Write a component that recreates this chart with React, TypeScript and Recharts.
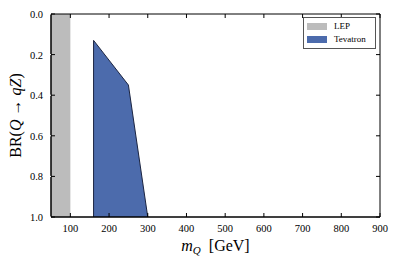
import React from "react";
import { ComposedChart, Area, XAxis, YAxis, Legend, ReferenceArea, ReferenceLine } from "recharts";

const xTicks = [100, 200, 300, 400, 500, 600, 700, 800, 900];
const yTicks = [0, 0.2, 0.4, 0.6, 0.8, 1.0];
const xDomain = [50, 900];
const yDomain = [0, 1];

// LEP exclusion band (full BR range)
const lepMass = [50, 100];
const lepBR = [0, 0];

// Tevatron excluded region, upper edge
const tevMass = [160, 160, 250, 300];
const tevBR = [1.0, 0.13, 0.35, 1.0];

const legendItems = [
  { name: "LEP", color: "#bcbcbc" },
  { name: "Tevatron", color: "#4c6bac" },
];

const FONT = "'Liberation Serif', 'DejaVu Serif', serif";

const rows: any[] = [
  ...lepMass.map((m, i) => ({ m, lep: lepBR[i] })),
  ...tevMass.map((m, i) => ({ m, tev: tevBR[i] })),
].sort((a, b) => a.m - b.m);

const W = 398;
const H = 265;
const MARGIN = { top: 14, right: 18, bottom: 0, left: 0 };
const Y_AXIS_W = 51;
const X_AXIS_H = 48;
const TICK_MARGIN = 8;
const TICK_LEN = 4;

// tick length expressed in data units for the top / right ticks
const plotW = W - MARGIN.right - Y_AXIS_W;
const plotH = H - MARGIN.top - X_AXIS_H;
const tickDx = (TICK_LEN * (xDomain[1] - xDomain[0])) / plotW;
const tickDy = (TICK_LEN * (yDomain[1] - yDomain[0])) / plotH;

function BottomTick(props: any) {
  const { x, y, payload } = props;
  const y0 = y - TICK_MARGIN;
  return (
    <g>
      <line x1={x} x2={x} y1={y0} y2={y0 - TICK_LEN} stroke="#000" />
      <text x={x} y={y} dy={7} textAnchor="middle" fontSize={10.5} fontFamily={FONT} fill="#000">
        {payload.value}
      </text>
    </g>
  );
}

function LeftTick(props: any) {
  const { x, y, payload } = props;
  const x0 = x + TICK_MARGIN;
  return (
    <g>
      <line x1={x0} x2={x0 + TICK_LEN} y1={y} y2={y} stroke="#000" />
      <text x={x} y={y} dy={4} textAnchor="end" fontSize={10.5} fontFamily={FONT} fill="#000">
        {Number(payload.value).toFixed(1)}
      </text>
    </g>
  );
}

function XLabel(props: any) {
  const vb = props.viewBox;
  return (
    <text x={vb.x + vb.width / 2} y={vb.y + 34} textAnchor="middle" fontSize={16} fontFamily={FONT} fill="#000">
      <tspan fontStyle="italic">m</tspan>
      <tspan fontSize={11} fontStyle="italic" dy={3}>Q</tspan>
      <tspan dy={-3}>{"\u2002[GeV]"}</tspan>
    </text>
  );
}

function YLabel(props: any) {
  const vb = props.viewBox;
  const cx = 21;
  const cy = vb.y + vb.height / 2;
  return (
    <text x={cx} y={cy} transform={`rotate(-90 ${cx} ${cy})`} textAnchor="middle" fontSize={16} fontFamily={FONT} fill="#000">
      BR(<tspan fontStyle="italic">Q</tspan>{" \u2192 "}<tspan fontStyle="italic">qZ</tspan>)
    </text>
  );
}

function LegendBox() {
  return (
    <div
      style={{
        border: "1px solid #555",
        background: "#fff",
        padding: "2px 4px 2px 3px",
        fontFamily: FONT,
        fontSize: 9,
        lineHeight: "13px",
        width: 64,
      }}
    >
      {legendItems.map((it) => (
        <div key={it.name} style={{ display: "flex", alignItems: "center" }}>
          <span style={{ display: "inline-block", width: 20, height: 7, background: it.color, marginRight: 7 }} />
          <span>{it.name}</span>
        </div>
      ))}
    </div>
  );
}

export default function App() {
  return (
    <div style={{ position: "absolute", left: 0, top: 0, width: W, height: H }}>
      <ComposedChart width={W} height={H} data={rows} margin={MARGIN}>
        <XAxis
          dataKey="m"
          type="number"
          domain={xDomain}
          ticks={xTicks}
          allowDataOverflow
          height={X_AXIS_H}
          tickSize={0}
          tickMargin={TICK_MARGIN}
          tickLine={false}
          tick={<BottomTick />}
          axisLine={{ stroke: "#000" }}
          label={<XLabel />}
        />
        <YAxis
          type="number"
          domain={yDomain}
          ticks={yTicks}
          reversed
          allowDataOverflow
          width={Y_AXIS_W}
          tickSize={6}
          tickMargin={2}
          tickLine={{ stroke: "#fff" }}
          tick={<LeftTick />}
          axisLine={{ stroke: "#000" }}
          label={<YLabel />}
        />
        <Area
          name="LEP"
          dataKey="lep"
          type="linear"
          baseValue={1}
          fill={legendItems[0].color}
          fillOpacity={1}
          stroke="none"
          isAnimationActive={false}
        />
        <Area
          name="Tevatron"
          dataKey="tev"
          type="linear"
          baseValue={1}
          fill={legendItems[1].color}
          fillOpacity={1}
          stroke="#1b2440"
          strokeWidth={1}
          isAnimationActive={false}
        />
        {/* frame */}
        <ReferenceArea x1={xDomain[0]} x2={xDomain[1]} y1={yDomain[0]} y2={yDomain[1]} fill="none" stroke="#000" strokeWidth={1} ifOverflow="visible" />
        {/* inward ticks on top and right spines */}
        {xTicks.map((t) => (
          <ReferenceLine key={"tx" + t} segment={[{ x: t, y: yDomain[0] }, { x: t, y: yDomain[0] + tickDy }]} stroke="#000" ifOverflow="visible" />
        ))}
        {yTicks.map((t) => (
          <ReferenceLine key={"ty" + t} segment={[{ x: xDomain[1], y: t }, { x: xDomain[1] - tickDx, y: t }]} stroke="#000" ifOverflow="visible" />
        ))}
        <Legend
          layout="vertical"
          align="center"
          verticalAlign="middle"
          wrapperStyle={{ position: "absolute", top: 17, left: 303 }}
          content={() => <LegendBox />}
        />
      </ComposedChart>
    </div>
  );
}
